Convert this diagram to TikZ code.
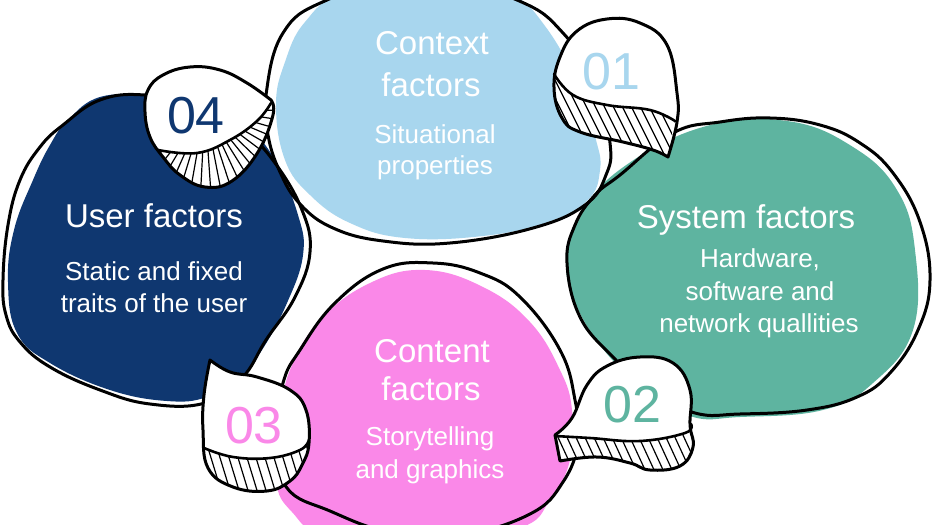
\documentclass[tikz,border=0pt]{standalone}
\usepackage{fontspec}
\setmainfont{Liberation Sans}
\definecolor{blueL}{RGB}{168,214,238}
\definecolor{tealC}{RGB}{94,180,160}
\definecolor{navyC}{RGB}{15,55,112}
\definecolor{pinkC}{RGB}{250,136,232}
\begin{document}
\begin{tikzpicture}[x=1pt,y=-1pt,line join=round,line cap=round,
  blobline/.style={draw=black,line width=3pt},
  bubfill/.style={fill=white},
  bubline/.style={draw=black,line width=3pt},
  hatchline/.style={draw=black,line width=1.2pt},
  innerline/.style={draw=black,line width=2.6pt},
  title/.style={text=white,font=\fontsize{33}{40}\selectfont,anchor=base,inner sep=0pt},
  sub/.style={text=white,font=\fontsize{26}{31}\selectfont,anchor=base,inner sep=0pt},
  num/.style={font=\fontsize{52}{60}\selectfont,anchor=base,inner sep=0pt}]
\useasboundingbox (0,0) rectangle (933,524);
\fill[white] (0,0) rectangle (933,524);
\clip (0,0) rectangle (933,524);

% ---------- blob fills ----------
\fill[blueL] plot[smooth cycle,tension=0.7] coordinates {(276,105) (285,62) (305,22) (345,-8) (440,-28) (508,-8) (545,26) (578,85) (596,140) (600,170) (588,200) (548,222) (483,236) (405,238) (350,223) (310,195) (285,160)};
\fill[tealC] plot[smooth cycle,tension=0.7] coordinates {(622,168) (703,127) (787,121) (853,147) (897,190) (915,250) (913,330) (873,383) (823,410) (740,417) (690,416) (640,385) (600,345) (572,295) (567,255) (580,215)};
\fill[navyC] plot[smooth cycle,tension=0.7] coordinates {(68,120) (100,97) (150,96) (205,105) (245,125) (275,160) (298,215) (303,255) (287,303) (262,350) (240,377) (207,397) (167,401) (110,390) (50,363) (17,333) (8,282) (14,230) (33,180) (50,145)};
\fill[pinkC] plot[smooth cycle,tension=0.7] coordinates {(425,270) (483,287) (530,322) (560,370) (572,410) (570,460) (550,500) (520,528) (430,545) (330,538) (292,512) (276,480) (280,420) (290,370) (320,320) (370,283)};

% ---------- blob outlines ----------
\path[blobline] plot[smooth cycle,tension=0.7] coordinates {(266,95) (283,33) (327,0) (420,-28) (517,0) (563,33) (596,85) (610,143) (606,175) (585,205) (533,228) (450,243) (383,241) (333,228) (300,204) (280,172) (268,135)};
\path[blobline] plot[smooth cycle,tension=0.7] coordinates {(620,175) (673,133) (720,122) (770,118) (820,125) (860,143) (893,173) (920,222) (930,280) (918,330) (890,373) (857,397) (807,410) (740,414) (695,413) (650,390) (613,357) (580,317) (567,263) (575,225) (595,195)};
\path[blobline] plot[smooth cycle,tension=0.7] coordinates {(63,125) (100,100) (145,95) (200,106) (245,132) (275,163) (302,210) (310,252) (295,297) (266,340) (242,378) (205,403) (150,404) (100,390) (50,367) (20,342) (6,315) (3,280) (8,225) (20,180) (40,147)};
\path[blobline] plot[smooth cycle,tension=0.7] coordinates {(383,269) (433,263) (480,273) (520,297) (560,350) (575,400) (578,442) (563,482) (530,514) (460,535) (390,532) (330,511) (287,488) (274,440) (283,383) (300,350) (335,303)};

% ---------- bubble 01 ----------
\path[bubfill] plot[smooth,tension=0.7] coordinates {(668,157) (677,122) (677,93) (667,45) (640,23) (607,19) (577,31) (560,57) (554,88) (562,118) (580,132) (623,142) (653,150) (668,157)} -- cycle;
\begin{scope}
\clip plot[smooth,tension=0.7] coordinates {(554,74) (573,95) (607,105) (650,110) (675,121)} -- (668,157) -- plot[smooth,tension=0.7] coordinates {(653,150) (623,142) (580,132) (562,118) (554,88)} -- cycle;
\foreach \k in {0,...,21} \draw[hatchline] (500+\k*9,60) -- ++(55,110);
\end{scope}
\path[innerline] plot[smooth,tension=0.7] coordinates {(554,74) (573,95) (607,105) (650,110) (675,121)};
\path[bubline] plot[smooth,tension=0.7] coordinates {(668,157) (677,122) (677,93) (667,45) (640,23) (607,19) (577,31) (560,57) (554,88) (562,118) (580,132) (623,142) (653,150) (668,157)} -- cycle;

% ---------- bubble 04 ----------
\path[bubfill] plot[smooth,tension=0.7] coordinates {(271,100) (247,83) (220,70) (190,67) (163,75) (148,90) (145,112) (150,137) (163,157) (180,175) (205,187) (232,181) (258,152) (273,115) (271,100)} -- cycle;
\begin{scope}
\clip plot[smooth,tension=0.7] coordinates {(158,150) (197,153) (230,140) (257,121) (271,103)} -- plot[smooth,tension=0.7] coordinates {(273,115) (258,152) (232,181) (205,187) (180,175) (160,155)} -- cycle;
\foreach \a in {-40,-33,...,190} \draw[hatchline] (205,108) -- ++(\a:130);
\end{scope}
\path[innerline] plot[smooth,tension=0.7] coordinates {(158,150) (197,153) (230,140) (257,121) (271,103)};
\path[bubline] plot[smooth,tension=0.7] coordinates {(271,100) (247,83) (220,70) (190,67) (163,75) (148,90) (145,112) (150,137) (163,157) (180,175) (205,187) (232,181) (258,152) (273,115) (271,100)} -- cycle;

% ---------- bubble 03 ----------
\path[bubfill] plot[smooth,tension=0.7] coordinates {(210,360) (230,372) (257,377) (290,390) (306,410) (309,443) (302,465) (290,481) (267,491) (233,487) (208,468) (203,430) (204,395) (210,360)} -- cycle;
\begin{scope}
\clip plot[smooth,tension=0.7] coordinates {(204,448) (233,457) (270,458) (300,450) (309,440)} -- plot[smooth,tension=0.7] coordinates {(302,465) (290,481) (267,491) (233,487) (208,468) (204,452)} -- cycle;
\foreach \k in {0,...,18} \draw[hatchline] (165+\k*9,425) -- ++(26,85);
\end{scope}
\path[innerline] plot[smooth,tension=0.7] coordinates {(204,448) (233,457) (270,458) (300,450) (309,440)};
\path[bubline] plot[smooth,tension=0.7] coordinates {(210,360) (230,372) (257,377) (290,390) (306,410) (309,443) (302,465) (290,481) (267,491) (233,487) (208,468) (203,430) (204,395) (210,360)} -- cycle;

% ---------- bubble 02 ----------
\path[bubfill] plot[smooth,tension=0.7] coordinates {(555,435) (572,418) (587,385) (607,366) (640,357) (673,363) (690,390) (690,425) (693,447) (680,466) (650,470) (630,463) (597,457) (560,461)} -- cycle;
\begin{scope}
\clip plot[smooth,tension=0.7] coordinates {(555,436) (590,438) (640,441) (685,433) (691,424)} -- plot[smooth,tension=0.7] coordinates {(693,447) (680,466) (650,470) (630,463) (597,457) (560,461)} -- cycle;
\foreach \k in {0,...,22} \draw[hatchline] (505+\k*9,420) -- ++(30,65);
\end{scope}
\path[innerline] plot[smooth,tension=0.7] coordinates {(555,436) (590,438) (640,441) (685,433) (691,424)};
\path[bubline] plot[smooth,tension=0.7] coordinates {(555,435) (572,418) (587,385) (607,366) (640,357) (673,363) (690,390) (690,425) (693,447) (680,466) (650,470) (630,463) (597,457) (560,461)} -- cycle;

% ---------- numbers ----------
\node[num,text=blueL] (n01) at (611,90) {01};
\node[num,text=tealC] (n02) at (632,422) {02};
\node[num,text=pinkC] (n03) at (254,443) {03};
\node[num,text=navyC] (n04) at (196,133) {04};

% ---------- texts ----------
\node[title] (t1a) at (432,55) {Context};
\node[title] (t1b) at (431,97) {factors};
\node[sub] (s1a) at (435,143) {Situational};
\node[sub] (s1b) at (435,174) {properties};

\node[title] (t2a) at (746,228) {System factors};
\node[sub] (s2a) at (760,267) {Hardware,};
\node[sub] (s2b) at (760,300) {software and};
\node[sub] (s2c) at (759,332) {network quallities};

\node[title] (t3a) at (432,362) {Content};
\node[title] (t3b) at (431,400) {factors};
\node[sub] (s3a) at (430,445) {Storytelling};
\node[sub] (s3b) at (430,478) {and graphics};

\node[title] (t4a) at (154,227) {User factors};
\node[sub] (s4a) at (154,280) {Static and fixed};
\node[sub] (s4b) at (154,312) {traits of the user};
\end{tikzpicture}
\end{document}
